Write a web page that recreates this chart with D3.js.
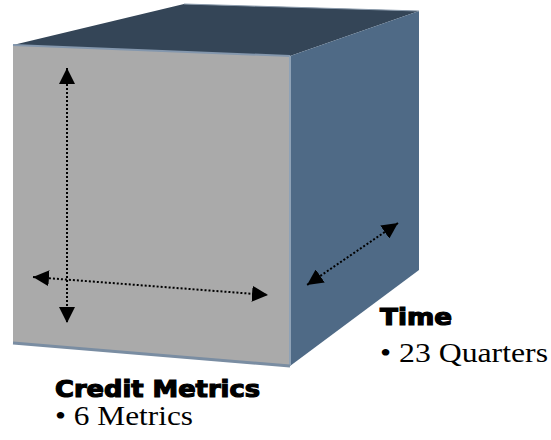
<!DOCTYPE html>
<html>
<head>
<meta charset="utf-8">
<script src="https://cdn.jsdelivr.net/npm/d3@7"></script>
<style>
  body { margin: 0; background: #fff; }
  svg { display: block; }
</style>
</head>
<body>
<div id="chart"></div>
<script>
// cube dimensions and their labels
const dimNames = ["Credit Metrics", "Time"];
const dimDetails = ["6 Metrics", "23 Quarters"];

const width = 551, height = 440;

// screen corners of the cube (front face / back edge)
const front = { tl: [13, 45], tr: [290, 56], br: [290, 366], bl: [13, 343] };
const back = { tl: [184, 4], tr: [419, 11], br: [419, 270] };

const svg = d3.select("#chart").append("svg")
    .attr("width", width)
    .attr("height", height);

const defs = svg.append("defs");
defs.append("marker")
    .attr("id", "head")
    .attr("viewBox", "0 0 16 16")
    .attr("refX", 16)
    .attr("refY", 8)
    .attr("markerWidth", 16)
    .attr("markerHeight", 16)
    .attr("markerUnits", "userSpaceOnUse")
    .attr("orient", "auto-start-reverse")
    .append("path")
    .attr("d", "M0,0 L16,8 L0,16 Z")
    .attr("fill", "#000");

const line = d3.line();

// faces
svg.append("path")
    .attr("d", line([front.tl, back.tl, back.tr, front.tr]) + "Z")
    .attr("fill", "#344557");
svg.append("path")
    .attr("d", line([front.tr, back.tr, back.br, front.br]) + "Z")
    .attr("fill", "#4f6a86");
svg.append("path")
    .attr("d", line([front.tl, front.tr, front.br, front.bl]) + "Z")
    .attr("fill", "#aaaaaa");

// highlighted edges
svg.append("path")
    .attr("d", line([front.tl, front.tr]))
    .attr("stroke", "#8497ad").attr("stroke-width", 2).attr("fill", "none");
svg.append("path")
    .attr("d", line([front.tr, front.br]))
    .attr("stroke", "#8fa2b6").attr("stroke-width", 2).attr("fill", "none");
svg.append("path")
    .attr("d", line([front.bl, front.br]))
    .attr("stroke", "#7a8da2").attr("stroke-width", 3).attr("fill", "none");
svg.append("path")
    .attr("d", line([back.tl, back.tr]))
    .attr("stroke", "#8a9aab").attr("stroke-width", 1).attr("fill", "none");

// dotted axis arrows
const arrows = [
    [[67, 68], [67, 323]],
    [[33, 277], [268, 295]],
    [[398, 223], [307, 285]]
];
svg.selectAll("path.axis")
    .data(arrows)
    .join("path")
    .attr("class", "axis")
    .attr("d", d => line(d))
    .attr("stroke", "#000")
    .attr("stroke-width", 2)
    .attr("stroke-dasharray", "2,2")
    .attr("fill", "none")
    .attr("marker-start", "url(#head)")
    .attr("marker-end", "url(#head)");

// labels
const labelPos = [[55, 397], [380, 325]];
const labelLen = [205, 72];
const detailLen = [138, 168];

const labels = svg.selectAll("g.label")
    .data(dimNames)
    .join("g")
    .attr("class", "label")
    .attr("transform", (d, i) => `translate(${labelPos[i]})`);

labels.append("text")
    .attr("font-family", "DejaVu Sans")
    .attr("font-weight", "bold")
    .attr("font-size", 23)
    .attr("stroke", "#000")
    .attr("stroke-width", 1.2)
    .attr("textLength", (d, i) => labelLen[i])
    .attr("lengthAdjust", "spacingAndGlyphs")
    .text(d => d);

labels.append("text")
    .attr("y", (d, i) => i === 0 ? 28 : 37)
    .attr("font-family", "Liberation Serif")
    .attr("font-size", 28)
    .attr("textLength", (d, i) => detailLen[i])
    .attr("lengthAdjust", "spacingAndGlyphs")
    .text((d, i) => "\u2022 " + dimDetails[i]);
</script>
</body>
</html>
